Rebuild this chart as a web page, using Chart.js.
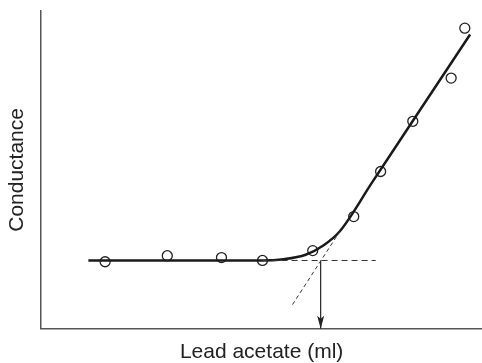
<!DOCTYPE html>
<html>
<head>
<meta charset="utf-8">
<script src="https://cdn.jsdelivr.net/npm/chart.js@4"></script>
<style>
  html, body { margin: 0; padding: 0; background: #fff; }
  #wrap { width: 482px; height: 363px; }
</style>
</head>
<body>
<div id="wrap"><canvas id="chart"></canvas></div>
<script>
// measured points (arbitrary units)
const pointX = [1.45, 2.86, 4.09, 5.02, 6.16, 7.09, 7.70, 8.43, 9.30, 9.61];
const pointY = [2.11, 2.30, 2.24, 2.15, 2.46, 3.53, 4.95, 6.53, 7.89, 9.46];

// hand-drawn fit curve
const curveX = [1.07, 5.0, 5.5, 6.0, 6.4, 6.77, 7.5, 8.5, 9.73];
const curveY = [2.15, 2.15, 2.19, 2.33, 2.62, 3.06, 4.59, 6.69, 9.26];

// dashed construction lines
const flatX = [5.0, 7.59];
const flatY = [2.15, 2.15];
const slopeX = [5.70, 6.80];
const slopeY = [0.76, 3.12];

// end point
const endX = 6.34;
const endY = [2.15, 0];

function toXY(xs, ys) {
  return xs.map((x, i) => ({ x: x, y: ys[i] }));
}

const arrowHead = {
  id: "arrowHead",
  afterDatasetsDraw(chart) {
    const ctx = chart.ctx;
    const px = chart.scales.x.getPixelForValue(endX);
    const py = chart.scales.y.getPixelForValue(endY[1]);
    ctx.save();
    ctx.fillStyle = "#222";
    ctx.beginPath();
    ctx.moveTo(px, py);
    ctx.lineTo(px - 3.5, py - 13);
    ctx.lineTo(px, py - 10);
    ctx.lineTo(px + 3.5, py - 13);
    ctx.closePath();
    ctx.fill();
    ctx.restore();
  },
};

new Chart(document.getElementById("chart"), {
  type: "scatter",
  data: {
    datasets: [
      {
        data: toXY(flatX, flatY),
        showLine: true,
        borderColor: "#333",
        borderWidth: 1,
        borderDash: [6, 4],
        pointRadius: 0,
      },
      {
        data: toXY(slopeX, slopeY),
        showLine: true,
        borderColor: "#333",
        borderWidth: 1,
        borderDash: [4, 3],
        pointRadius: 0,
      },
      {
        data: toXY([endX, endX], endY),
        showLine: true,
        borderColor: "#222",
        borderWidth: 1.2,
        pointRadius: 0,
      },
      {
        data: toXY(curveX, curveY),
        showLine: true,
        borderColor: "#1a1a1a",
        borderWidth: 2.5,
        cubicInterpolationMode: "monotone",
        pointRadius: 0,
      },
      {
        data: toXY(pointX, pointY),
        showLine: false,
        pointRadius: 5,
        pointBackgroundColor: "#fff",
        pointBorderColor: "#222",
        pointBorderWidth: 1.3,
      },
    ],
  },
  options: {
    responsive: true,
    maintainAspectRatio: false,
    animation: false,
    layout: {
      autoPadding: false,
      padding: { top: 11, right: 0, left: 0, bottom: 0 },
    },
    plugins: {
      legend: { display: false },
      tooltip: { enabled: false },
    },
    scales: {
      x: {
        type: "linear",
        min: 0,
        max: 10,
        ticks: { display: false },
        grid: { display: false, drawTicks: false },
        border: { display: true, color: "#555", width: 1.5 },
        title: {
          display: true,
          text: "Lead acetate (ml)",
          color: "#222",
          font: { family: "Liberation Sans, Arial, sans-serif", size: 21 },
          padding: { top: 11, bottom: -2 },
        },
      },
      y: {
        type: "linear",
        min: 0,
        max: 10,
        ticks: { display: false },
        grid: { display: false, drawTicks: false },
        border: { display: true, color: "#555", width: 1.5 },
        title: {
          display: true,
          text: "Conductance",
          color: "#222",
          font: { family: "Liberation Sans, Arial, sans-serif", size: 21 },
          padding: { top: 5, bottom: 11 },
        },
      },
    },
  },
  plugins: [arrowHead],
});
</script>
</body>
</html>
